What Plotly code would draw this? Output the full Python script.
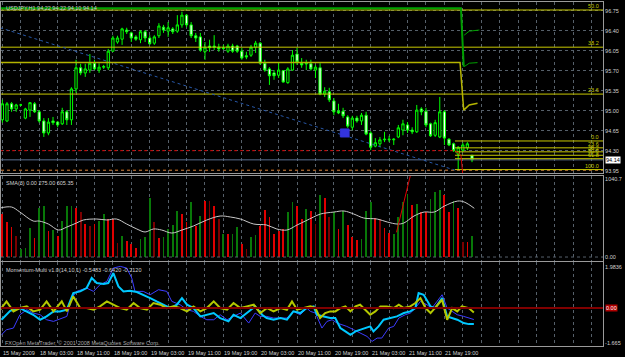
import plotly.graph_objects as go

# ---------------- data ----------------
bars = list(range(103))

opens = [94.84, 94.82, 95.12, 95.03, 95.10, 94.87, 95.01, 95.12, 94.98, 94.82,
         94.61, 94.82, 94.80, 94.77, 94.98, 94.84, 95.38, 95.75, 95.66, 95.71,
         95.83, 95.71, 95.76, 95.75, 96.04, 96.20, 96.25, 96.41, 96.36, 96.29,
         96.24, 96.38, 96.27, 96.18, 96.31, 96.46, 96.39, 96.43, 96.39, 96.50,
         96.67, 96.50, 96.31, 96.29, 96.03, 96.13, 96.13, 96.11, 96.10, 96.04,
         96.13, 96.13, 96.04, 95.96, 95.97, 96.11, 96.18, 95.83, 95.73, 95.66,
         95.62, 95.70, 95.49, 95.71, 95.99, 95.83, 95.83, 95.82, 95.71, 95.75,
         95.29, 95.33, 95.17, 94.99, 94.99, 94.89, 94.71, 94.87, 94.82, 94.92,
         94.61, 94.38, 94.42, 94.49, 94.49, 94.49, 94.54, 94.66, 94.75, 94.66,
         94.63, 95.03, 94.99, 94.77, 94.57, 94.54, 94.98, 94.50, 94.42, 94.24,
         94.31, 94.35, 94.22]
highs = [95.19, 95.15, 95.15, 95.12, 95.12, 95.05, 95.15, 95.15, 95.01, 94.87,
         94.87, 94.89, 94.82, 95.05, 95.01, 95.41, 95.89, 95.82, 95.82, 95.99,
         95.89, 95.83, 95.80, 96.08, 96.31, 96.31, 96.45, 96.45, 96.38, 96.32,
         96.41, 96.41, 96.32, 96.32, 96.53, 96.50, 96.55, 96.46, 96.67, 96.73,
         96.69, 96.55, 96.36, 96.36, 96.20, 96.24, 96.32, 96.17, 96.15, 96.17,
         96.17, 96.15, 96.10, 96.03, 96.15, 96.22, 96.20, 95.89, 95.76, 95.71,
         95.85, 95.71, 95.76, 96.06, 96.10, 95.92, 95.89, 95.89, 95.80, 95.83,
         95.41, 95.40, 95.22, 95.12, 95.05, 94.92, 94.91, 94.91, 94.96, 94.98,
         94.64, 94.52, 94.54, 94.63, 94.56, 94.52, 94.75, 94.84, 94.80, 94.71,
         95.10, 95.06, 95.05, 94.79, 94.84, 95.24, 95.01, 94.52, 94.44, 94.38,
         94.44, 94.45, 94.22]
lows = [94.79, 94.80, 94.98, 94.98, 95.08, 94.85, 94.89, 94.96, 94.79, 94.54,
        94.57, 94.75, 94.71, 94.75, 94.75, 94.75, 95.31, 95.62, 95.59, 95.66,
        95.71, 95.66, 95.73, 95.71, 96.03, 96.17, 96.15, 96.34, 96.20, 96.22,
        96.18, 96.20, 96.15, 96.15, 96.27, 96.36, 96.29, 96.34, 96.36, 96.45,
        96.46, 96.27, 96.20, 96.03, 95.89, 96.03, 96.06, 96.03, 96.06, 96.01,
        96.01, 96.01, 95.89, 95.90, 95.94, 96.01, 95.80, 95.68, 95.45, 95.54,
        95.57, 95.49, 95.47, 95.70, 95.80, 95.75, 95.71, 95.70, 95.57, 95.27,
        95.24, 95.15, 94.92, 94.94, 94.87, 94.70, 94.66, 94.79, 94.75, 94.57,
        94.31, 94.36, 94.36, 94.45, 94.45, 94.40, 94.52, 94.57, 94.61, 94.59,
        94.61, 94.92, 94.71, 94.54, 94.54, 94.52, 94.40, 94.38, 94.28, 93.96,
        94.28, 94.31, 94.10]
closes = [95.12, 95.12, 95.03, 95.10, 95.10, 95.03, 95.14, 94.98, 94.82, 94.61,
          94.80, 94.79, 94.75, 94.98, 94.84, 95.38, 95.75, 95.66, 95.73, 95.83,
          95.73, 95.76, 95.77, 96.04, 96.27, 96.27, 96.43, 96.38, 96.27, 96.25,
          96.38, 96.27, 96.17, 96.29, 96.48, 96.41, 96.45, 96.38, 96.50, 96.67,
          96.50, 96.31, 96.27, 96.06, 96.11, 96.10, 96.11, 96.08, 96.09, 96.13,
          96.04, 96.04, 95.92, 95.94, 96.11, 96.18, 95.83, 95.71, 95.61, 95.61,
          95.71, 95.50, 95.73, 95.97, 95.85, 95.80, 95.82, 95.73, 95.76, 95.29,
          95.34, 95.19, 94.98, 94.96, 94.91, 94.73, 94.87, 94.82, 94.92, 94.59,
          94.36, 94.44, 94.49, 94.50, 94.50, 94.50, 94.70, 94.77, 94.66, 94.63,
          95.01, 94.98, 94.75, 94.56, 94.79, 94.98, 94.52, 94.40, 94.30, 94.36,
          94.40, 94.42, 94.14]

volume = [574, 467, 400, 280, 107, 120, 387, 253, 654, 680,
          347, 360, 280, 480, 680, 680, 654, 600, 440, 414,
          440, 480, 574, 507, 507, 187, 280, 213, 173, 120,
          240, 267, 787, 467, 253, 267, 374, 427, 614, 574,
          467, 734, 414, 547, 747, 747, 680, 507, 307, 307,
          307, 400, 173, 107, 267, 293, 414, 627, 534, 307,
          347, 374, 600, 734, 680, 507, 640, 614, 440, 827,
          787, 534, 600, 374, 614, 427, 267, 227, 240, 614,
          734, 520, 507, 387, 320, 307, 534, 734, 840, 694,
          707, 600, 600, 774, 867, 894, 827, 600, 747, 654,
          200, 200, 275]
# r = red bar, d = dark red bar, g = green bar
vol_kind = list("rrrdgggrgg" "rgrgggrdrd" "rggrrdgrrr" "gggdrggggr" "rgrgrdrdgr"
                "ggrdggrrrr" "rrggrrgrdg" "rdgrgrrrgg" "grdrrggggr" "grrgggrrgr" "drg")

sma_x = [-0.5, 2.0, 3.8, 6.7, 8.0, 10.0, 12.2, 14.0, 16.1, 17.6, 20.5, 22.7, 24.8, 27.0, 29.2, 31.0,
         32.8, 34.6, 36.8, 39.0, 41.5, 44.4, 47.3, 49.5, 51.7, 54.6, 57.4, 59.6, 61.8, 64.0, 65.8, 67.6,
         69.1, 72.0, 74.2, 76.3, 78.5, 81.4, 83.6, 85.8, 87.2, 89.4, 91.6, 93.8, 96.0, 98.9, 100.3, 102.5]
sma_y = [654, 667, 600, 480, 480, 440, 360, 400, 454, 494, 507, 494, 507, 440, 374, 334,
         374, 360, 320, 360, 414, 494, 547, 534, 507, 440, 427, 374, 360, 427, 480, 534,
         574, 600, 614, 574, 520, 507, 467, 440, 454, 547, 600, 600, 680, 747, 734, 650]
vol_red_x = [85.6, 88.7]
vol_red_y = [330, 1110]

cyan_x = [-0.2, 1.7, 3.8, 5.3, 6.7, 8.2, 9.6, 11.1, 12.5, 14.0, 15.4, 16.9, 18.3, 19.4, 20.5, 22.0,
          23.0, 24.1, 25.2, 26.3, 27.7, 29.2, 30.6, 32.1, 33.5, 35.0, 36.5, 37.9, 39.0, 40.1, 41.5,
          43.0, 44.4, 45.9, 47.3, 49.1, 50.2, 51.7, 53.1, 54.9, 56.4, 57.4, 58.9, 60.4, 61.8, 63.2,
          64.7, 66.1, 67.6, 68.3, 69.8, 71.2, 72.3, 73.4, 74.5, 75.6, 76.7, 77.7, 78.8, 79.9, 80.6,
          81.7, 82.8, 84.3, 85.7, 87.2, 88.6, 89.7, 90.4, 91.5, 93.0, 94.0, 95.5, 96.6, 97.7, 98.8,
          100.2, 101.3, 102.4]
cyan_y = [-0.56, -0.13, 0.00, -0.16, -0.32, -0.56, -0.40, -0.16, -0.16, -0.08, 0.72, 0.80, 0.96,
          1.44, 1.20, 1.15, 1.20, 1.68, 1.04, 0.80, 0.83, 0.77, 0.64, 0.48, 0.32, 0.16, 0.00, 0.16,
          0.48, 0.16, 0.00, -0.40, -0.32, -0.24, -0.48, -0.64, -0.32, -0.48, -0.24, 0.08, -0.32,
          -0.48, -0.56, -0.48, -0.56, -0.16, -0.24, 0.00, 0.08, -0.32, -0.40, -0.48, -0.48, -0.96,
          -1.12, -1.28, -1.12, -1.04, -0.96, -0.88, -1.12, -0.88, -0.56, -0.48, -0.40, -0.24, -0.16,
          0.00, 0.72, 0.64, 0.08, 0.00, 0.48, -0.40, -0.48, -0.56, -0.72, -0.77, -0.77]
blue_x = [-0.2, 0.9, 2.4, 3.8, 5.3, 6.7, 8.2, 9.6, 11.1, 12.2, 14.0, 15.1, 16.1, 18.3, 19.8, 21.2,
          22.7, 24.1, 25.6, 27.0, 28.1, 28.8, 30.6, 32.1, 33.9, 35.7, 36.8, 38.6, 40.1, 41.5, 43.0,
          44.4, 45.9, 47.3, 48.8, 50.2, 51.7, 53.5, 54.9, 56.0, 57.4, 58.9, 60.4, 61.8, 63.2, 64.7,
          66.1, 66.9, 68.0, 69.4, 70.5, 71.6, 72.7, 73.8, 74.8, 76.3, 77.7, 79.2, 80.3, 81.4, 82.4,
          83.9, 85.0, 86.1, 87.5, 88.6, 89.7, 90.8, 92.2, 93.3, 94.4, 95.5, 96.6, 97.7, 98.8, 100.2,
          101.3, 102.4]
blue_y = [-1.28, -1.04, -0.96, -0.32, -0.08, -0.24, -0.32, -0.56, -0.64, -0.56, -0.40, 0.48, 0.80,
          0.96, 0.80, 1.12, 1.28, 1.92, 2.00, 1.92, 1.44, 0.80, 0.80, 0.64, 0.88, 0.80, 0.32, 0.16,
          -0.08, -0.16, -0.40, -0.56, -0.56, -0.32, -0.56, -0.40, -0.24, -0.72, -0.24, -0.40, -0.40,
          -0.48, -0.48, -0.48, -0.16, -0.32, 0.00, -0.16, -0.24, -0.96, -0.64, -0.56, -0.72, -0.80,
          -0.88, -1.04, -1.20, -1.36, -1.60, -1.44, -1.44, -0.96, -0.88, -0.48, -0.32, -0.24, 0.00,
          0.32, 0.16, 0.00, 0.32, 0.64, 0.00, -0.16, -0.32, -0.40, -0.48, -0.55]
yellow_x = [-0.5, 0.9, 2.4, 3.8, 5.3, 6.7, 8.2, 9.6, 11.1, 12.9, 14.0, 15.4, 16.9, 18.3, 19.8, 21.2,
            22.7, 24.1, 25.6, 27.0, 28.5, 29.9, 31.4, 32.8, 34.3, 35.7, 37.2, 38.6, 40.1, 41.5, 43.0,
            44.4, 45.9, 47.3, 48.8, 50.2, 51.7, 53.1, 54.6, 56.0, 57.5, 58.9, 60.4, 61.8, 62.9, 64.0,
            65.4, 66.9, 68.0, 69.0, 70.1, 71.2, 72.3, 73.4, 74.5, 75.6, 76.7, 77.7, 78.8, 79.9, 81.0,
            82.1, 83.5, 85.0, 86.1, 87.2, 88.6, 89.7, 90.8, 91.9, 93.0, 94.0, 95.5, 96.6, 97.7, 98.8,
            99.8, 101.3, 102.4]
yellow_y = [-0.08, 0.32, -0.16, 0.00, 0.08, -0.16, -0.08, 0.32, -0.16, 0.32, -0.16, 0.56, 0.00, 0.00,
            -0.08, 0.08, 0.32, 0.16, 0.00, -0.08, 0.24, 0.00, -0.08, 0.24, 0.16, 0.00, 0.08, 0.00,
            -0.16, 0.08, -0.16, 0.00, 0.32, 0.00, -0.08, 0.24, 0.00, 0.08, 0.16, -0.24, 0.00, -0.16,
            0.00, -0.08, 0.32, -0.08, 0.00, 0.08, 0.00, -0.48, -0.24, -0.16, -0.16, 0.00, 0.08, -0.16,
            0.08, 0.16, -0.08, -0.32, -0.16, 0.08, 0.08, 0.00, 0.16, 0.00, 0.08, 0.24, 0.48, 0.00,
            -0.24, 0.00, 0.40, -0.56, 0.00, -0.16, 0.08, 0.00, -0.21]

# horizontal levels / drawn objects in the price panel
fib_hi_levels = [96.76, 96.11, 95.29]
fib_hi_labels = ["50.0", "38.2", "23.6"]
fib_lo_levels = [94.47, 94.35, 94.28, 94.22, 94.16, 93.97]
fib_lo_labels = ["0.0", "23.6", "38.2", "50.0", "61.8", "100.0"]
fib_lo_start = 98.3
trend_x = [-0.5, 98.3]
trend_y = [96.45, 93.96]
green_top_x = [-0.5, 99.6, 100.2]
green_top_y = [96.79, 96.79, 95.77]
hook1_x = [100.3, 101.4, 103.6]
hook1_y = [96.32, 96.39, 96.41]
hook2_x = [100.3, 101.4, 103.2]
hook2_y = [95.77, 95.83, 95.84]
olive_x = [-0.5, 99.4, 100.2, 101.4, 103.2]
olive_y = [95.84, 95.84, 95.01, 95.10, 95.13]
red_dot_x = [-0.5, 98.4]
red_dot_y = [94.30, 94.30]
red_drop_x = [98.4, 99.6, 100.0]
red_drop_y = [94.30, 94.22, 93.88]
bid_price = 94.14
orange_level = 93.96
square_x = [73.4, 75.3, 75.3, 73.4, 73.4]
square_y = [94.54, 94.54, 94.68, 94.68, 94.54]

price_ticks = [96.75, 96.40, 96.05, 95.70, 95.35, 95.00, 94.65, 94.30, 93.95]
vol_ticks = [1040.7, 0.0]
vol_ticktext = ["1040.7", "0.00"]
mom_ticks = [1.9836, -1.665]
mom_ticktext = ["1.9836", "-1.665"]
date_pos = [0, 8, 16, 24, 32, 40, 48, 56, 64, 72, 80, 88, 96]
date_text = ["15 May 2009", "18 May 03:00", "18 May 11:00", "18 May 19:00", "19 May 03:00",
             "19 May 11:00", "19 May 19:00", "20 May 03:00", "20 May 11:00", "20 May 19:00",
             "21 May 03:00", "21 May 11:00", "21 May 19:00"]

# ---------------- styling ----------------
FONT = "Liberation Sans, Arial, sans-serif"
FS = 5.5
GRID = "#56606a"
BORDER = "#9a9a9a"
TXT = "#d0d0d0"
FIBC = "#c8c800"
X_RANGE = [-0.3, 130.45]
kind_color = {"r": "#e00000", "d": "#7a0000", "g": "#087808"}

fig = go.Figure()

def line(x, y, color, width=1, dash="solid", axis=("x", "y"), shape="linear"):
    fig.add_trace(go.Scatter(x=x, y=y, mode="lines", xaxis=axis[0], yaxis=axis[1],
                             line=dict(color=color, width=width, dash=dash, shape=shape),
                             hoverinfo="skip", showlegend=False))

# price panel objects
line([X_RANGE[0], X_RANGE[1]], [orange_level, orange_level], "#c06010", 1, "dot")
line([X_RANGE[0], X_RANGE[1]], [bid_price, bid_price], "#5a7090", 1)
for lv in fib_hi_levels:
    line([X_RANGE[0], X_RANGE[1]], [lv, lv], FIBC, 1)
for lv in fib_lo_levels:
    line([fib_lo_start, X_RANGE[1]], [lv, lv], FIBC, 1)
line(trend_x, trend_y, "#2858a8", 1, "dot")
line(red_dot_x, red_dot_y, "#d00000", 1, "dot")
line(red_drop_x, red_drop_y, "#d00000", 1)
line(olive_x, olive_y, "#b4b400", 1.5)
line(green_top_x, green_top_y, "#00a000", 2)
line(hook1_x, hook1_y, "#00a000", 1)
line(hook2_x, hook2_y, "#00a000", 1)
fig.add_trace(go.Scatter(x=square_x, y=square_y, mode="lines", fill="toself",
                         fillcolor="#3333dd", line=dict(color="#3333dd", width=1),
                         xaxis="x", yaxis="y", hoverinfo="skip", showlegend=False))

fig.add_trace(go.Candlestick(
    x=bars, open=opens, high=highs, low=lows, close=closes, xaxis="x", yaxis="y",
    increasing=dict(line=dict(color="#00ff00", width=1), fillcolor="#000000"),
    decreasing=dict(line=dict(color="#00ff00", width=1), fillcolor="#ffffff"),
    whiskerwidth=0, hoverinfo="skip", showlegend=False))

# volume panel
fig.add_trace(go.Bar(x=bars, y=volume, xaxis="x2", yaxis="y2", width=0.17,
                     marker=dict(color=[kind_color[k] for k in vol_kind], line=dict(width=0)),
                     hoverinfo="skip", showlegend=False))
line(sma_x, sma_y, "#c8c8c8", 1, axis=("x2", "y2"), shape="spline")
line(vol_red_x, vol_red_y, "#e00000", 1, axis=("x2", "y2"))

# momentum panel
line(blue_x, blue_y, "#3c3cff", 1, axis=("x3", "y3"))
line(cyan_x, cyan_y, "#00c8ff", 2, axis=("x3", "y3"))
line(yellow_x, yellow_y, "#b4c800", 2, axis=("x3", "y3"))

def xax(anchor):
    return dict(domain=[0, 1], anchor=anchor, range=X_RANGE, showgrid=True, gridcolor=GRID,
                griddash="dot", gridwidth=1, dtick=4, tick0=0, showticklabels=False, ticks="",
                zeroline=False, showline=True, mirror=True, linecolor=BORDER, linewidth=1,
                automargin=False, rangeslider=dict(visible=False))

def yax(dom, rng, tv, tt, grid):
    return dict(domain=dom, range=rng, side="right", tickvals=tv, ticktext=tt, ticks="",
                showgrid=grid, gridcolor=GRID, griddash="dot", zeroline=False, showline=True,
                mirror=True, linecolor=BORDER, linewidth=1, automargin=False,
                tickfont=dict(size=FS, color=TXT, family=FONT))

ann = []
def text(x, y, s, xref="paper", yref="paper", xa="left", ya="top", color=TXT, **kw):
    ann.append(dict(x=x, y=y, xref=xref, yref=yref, text=s, showarrow=False, xanchor=xa,
                    yanchor=ya, font=dict(size=FS, color=color, family=FONT), **kw))

text(0.005, 0.997, "USDJPY,H1 94.22 94.22 94.10 94.14")
text(0.005, 0.488, "SMA(3) 0.00 275.00 605.35")
text(0.005, 0.236, "Momentum-Multi v1.0(14,10,1) -0.5483 -0.6420 -0.2120")
text(0.003, 0.022, "FXOpen MetaTrader, © 2001-2008 MetaQuotes Software Corp.", color="#a8a8a8")
for lv, lb in zip(fib_hi_levels + fib_lo_levels, fib_hi_labels + fib_lo_labels):
    text(0.997, lv, lb, yref="y", xa="right", ya="bottom", color=FIBC, yshift=-1)
text(1.0, bid_price, "94.14", yref="y", ya="middle", color="#000000", bgcolor="#ffffff",
     xshift=2, borderpad=0)
text(1.0, 0, "0.00", yref="y3", ya="middle", color="#ffffff", bgcolor="#b00000",
     xshift=2, borderpad=0)
for p, s in zip(date_pos, date_text):
    text(p, 0, s, xref="x3", ya="top", xshift=-1, yshift=-2)

fig.update_layout(
    template="none", width=625, height=357, margin=dict(l=1, r=22, t=2, b=11),
    paper_bgcolor="#000000", plot_bgcolor="#000000", showlegend=False,
    font=dict(family=FONT, size=FS, color=TXT), bargap=0,
    xaxis=xax("y"), xaxis2=dict(xax("y2"), matches="x"), xaxis3=dict(xax("y3"), matches="x"),
    yaxis=yax([0.5029, 1.0], [93.91, 96.90], price_ticks, ["%.2f" % v for v in price_ticks], True),
    yaxis2=yax([0.2471, 0.4942], [-53, 1081], vol_ticks, vol_ticktext, False),
    yaxis3=yax([0.0, 0.2442], [-1.82, 2.21], mom_ticks, mom_ticktext, False),
    annotations=ann,
    shapes=[dict(type="line", xref="paper", x0=0, x1=1, yref="y2", y0=0, y1=0,
                 line=dict(color=GRID, width=1, dash="dot")),
            dict(type="line", xref="paper", x0=0, x1=1, yref="y3", y0=0, y1=0,
                 line=dict(color="#800000", width=2))],
)

fig.write_html("out.html")
